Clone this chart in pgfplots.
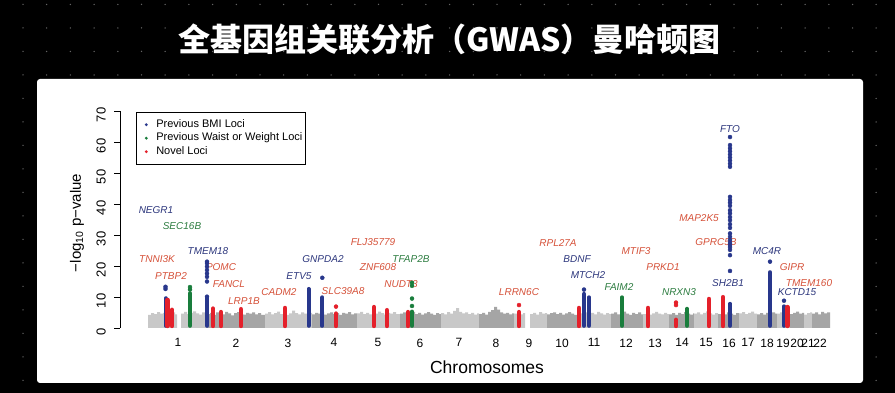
\documentclass[border=0pt]{standalone}
\usepackage{fontspec}
\setmainfont{Liberation Sans}
\newfontfamily\cjk{Noto Sans CJK SC}
\usepackage{pgfplots}
\pgfplotsset{compat=1.18}
\definecolor{bmiblue}{RGB}{40,55,140}
\definecolor{wgreen}{RGB}{25,125,60}
\definecolor{novred}{RGB}{228,32,42}
\definecolor{tblue}{RGB}{45,55,125}
\definecolor{tgreen}{RGB}{45,125,65}
\definecolor{tred}{RGB}{214,82,58}
\definecolor{gl}{RGB}{200,200,200}
\definecolor{gd}{RGB}{165,165,165}
\definecolor{dotc}{RGB}{100,100,100}
\newcommand\lab{\fontsize{10}{12}\selectfont\itshape}
\pgfplotsset{
  rcol/.style={forget plot, line width=4.8pt, line cap=round},
  bcol/.style={forget plot, line width=4.0pt, line cap=round},
  pts/.style={forget plot, only marks, mark=*, mark size=2pt},
  gbg/.style={forget plot, draw=none, const plot, fill=#1},
}
\begin{document}
\begin{tikzpicture}[x=1pt,y=1pt]
\fill[black] (0,0) rectangle (895,393);
\foreach \yy in {388.5,365,341.5,318,294.5,271,247.5,224,200.5,177,153.5,130,106.5,83,59.5,36,12.5}{
  \draw[dotc, line width=1.5pt, line cap=round, dash pattern=on 0pt off 23.7pt] (23,\yy) -- (894,\yy);
}
\fill[white, rounded corners=3pt] (37,10) rectangle (863,314);
\node[text=white, font=\cjk\bfseries\fontsize{32}{36}\selectfont] at (449.5,354) {全基因组关联分析（GWAS）曼哈顿图};
\begin{axis}[
  at={(120pt,65pt)}, anchor=south west, scale only axis,
  width=720pt, height=217pt,
  xmin=120, xmax=840, ymin=0, ymax=70, clip=false,
  axis y line*=left, axis x line*=bottom,
  x axis line style={draw=none},
  y axis line style={line width=0.7pt, black},
  ytick={0,10,20,30,40,50,60,70},
  tick align=outside, major tick length=6pt,
  ytick style={line width=0.7pt, black},
  xtick style={draw=none},
  xtick={178,236,288,334,378,420,459,496,529,562,594,626,655,682,706,729,748,767,783,797,808,820},
  xticklabels={1,2,3,4,5,6,7,8,9,10,11,12,13,14,15,16,17,18,19,20,21,22},
  /pgf/number format/assume math mode=true,
  yticklabel style={rotate=90, anchor=south, font=\fontsize{13}{15}\selectfont, inner sep=0pt, xshift=-4pt, yshift=8pt},
  xticklabel style={font=\fontsize{12}{14}\selectfont, inner sep=0pt, yshift=-4.5pt},
  legend style={at={(axis cs:136,69.8)}, anchor=north west, draw=black, line width=0.6pt,
    font=\fontsize{11}{13}\selectfont, inner xsep=1.5pt, inner ysep=6pt,
    nodes={inner sep=1.5pt, text height=8pt, text depth=2.5pt}, fill=white},
  legend cell align=left,
]
\addlegendimage{bmiblue, legend image code/.code={\path[draw=none, fill=none] (0pt,-3pt) rectangle (17pt,3pt); \fill[bmiblue, draw=none] (8.5pt,0pt) circle (1.6pt);}}
\addlegendentry{Previous BMI Loci}
\addlegendimage{wgreen, legend image code/.code={\path[draw=none, fill=none] (0pt,-3pt) rectangle (17pt,3pt); \fill[wgreen, draw=none] (8.5pt,0pt) circle (1.6pt);}}
\addlegendentry{Previous Waist or Weight Loci}
\addlegendimage{novred, legend image code/.code={\path[draw=none, fill=none] (0pt,-3pt) rectangle (17pt,3pt); \fill[novred, draw=none] (8.5pt,0pt) circle (1.6pt);}}
\addlegendentry{Novel Loci}

% grey background of all SNPs
\addplot[gbg=gl] coordinates {(148,4.2)(151,4.8)(154,4.5)(157,5.1)(160,4.6)(163,4.9)(166,5.3)(169,4.7)(172,5.0)(175,4.4)(177,4.4)} \closedcycle;
\addplot[gbg=gl] coordinates {(181,4.6)(184,5.2)(187,4.5)(190,4.9)(193,5.4)(196,4.7)(199,4.3)(202,5.0)(205,4.6)(207,4.6)} \closedcycle;
\addplot[gbg=gd] coordinates {(207,4.5)(210,4.9)(213,4.2)(216,5.0)(219,4.6)(222,4.4)(225,5.2)(228,4.7)(231,4.1)(234,4.8)(237,5.1)(240,4.5)(243,4.3)(246,4.9)(249,4.6)(252,5.0)(255,4.4)(258,4.8)(261,4.2)(265,4.2)} \closedcycle;
\addplot[gbg=gl] coordinates {(265,4.6)(268,5.1)(271,4.4)(274,4.8)(277,5.3)(280,4.5)(283,4.9)(286,4.2)(289,4.7)(292,5.6)(295,4.8)(298,4.4)(301,5.0)(304,4.6)(307,4.3)(310,4.9)(312,4.9)} \closedcycle;
\addplot[gbg=gd] coordinates {(312,4.4)(315,4.9)(318,4.6)(321,5.2)(324,4.3)(327,4.7)(330,5.0)(333,4.5)(336,4.8)(339,4.2)(342,4.9)(345,4.6)(348,5.1)(351,4.4)(354,4.7)(357,4.7)} \closedcycle;
\addplot[gbg=gl] coordinates {(357,4.7)(360,5.2)(363,4.5)(366,4.9)(369,4.4)(372,5.0)(375,4.6)(378,5.3)(381,4.8)(384,4.3)(387,4.9)(390,4.6)(393,5.1)(396,4.5)(400,4.5)} \closedcycle;
\addplot[gbg=gd] coordinates {(400,4.6)(403,5.0)(406,4.4)(409,4.8)(412,5.2)(415,4.5)(418,4.9)(421,4.3)(424,4.7)(427,5.1)(430,4.6)(433,4.2)(436,4.8)(439,4.5)(441,4.5)} \closedcycle;
\addplot[gbg=gl] coordinates {(441,4.8)(444,4.4)(447,5.1)(450,4.6)(453,5.5)(456,6.4)(459,5.2)(462,4.7)(465,5.0)(468,4.5)(471,4.9)(474,4.3)(477,4.7)(479,4.7)} \closedcycle;
\addplot[gbg=gd] coordinates {(479,4.5)(482,4.9)(485,4.3)(488,5.2)(491,5.8)(494,6.8)(497,5.9)(500,5.0)(503,4.6)(506,4.9)(509,4.4)(512,4.7)(514,4.7)} \closedcycle;
\addplot[gbg=gl] coordinates {(514,4.6)(517,5.0)(520,4.4)(523,4.8)(525,4.8)} \closedcycle;
\addplot[gbg=gl] coordinates {(530,4.5)(533,4.9)(536,4.3)(539,5.1)(542,4.6)(545,4.8)(547,4.8)} \closedcycle;
\addplot[gbg=gd] coordinates {(547,4.4)(550,4.8)(553,5.0)(556,4.5)(559,4.9)(562,4.3)(565,4.7)(568,5.1)(571,4.6)(574,4.2)(577,4.8)(579,4.8)} \closedcycle;
\addplot[gbg=gl] coordinates {(579,4.7)(582,4.3)(585,5.0)(588,4.6)(591,4.9)(594,4.4)(597,5.2)(600,4.7)(603,4.3)(606,4.8)(609,4.5)(611,4.5)} \closedcycle;
\addplot[gbg=gd] coordinates {(611,4.6)(614,5.0)(617,4.4)(620,4.8)(623,5.3)(626,4.6)(629,4.2)(632,4.9)(635,4.5)(638,5.0)(641,4.4)(643,4.4)} \closedcycle;
\addplot[gbg=gl] coordinates {(643,4.5)(646,4.9)(649,4.3)(652,4.7)(655,5.2)(658,4.6)(661,4.4)(664,4.9)(667,4.5)(669,4.5)} \closedcycle;
\addplot[gbg=gd] coordinates {(669,4.4)(672,4.8)(675,4.2)(678,4.9)(681,4.5)(684,5.1)(687,4.6)(690,4.3)(693,4.7)(694,4.7)} \closedcycle;
\addplot[gbg=gl] coordinates {(694,4.6)(697,5.0)(700,4.4)(703,4.9)(706,5.4)(709,4.7)(712,4.3)(715,4.8)(718,4.8)} \closedcycle;
\addplot[gbg=gd] coordinates {(718,4.5)(721,4.9)(724,4.4)(727,5.0)(730,4.6)(733,4.2)(736,4.8)(739,4.8)} \closedcycle;
\addplot[gbg=gl] coordinates {(739,4.7)(742,5.1)(745,4.5)(748,4.9)(751,5.3)(754,4.6)(757,4.6)} \closedcycle;
\addplot[gbg=gd] coordinates {(757,4.4)(760,4.8)(763,4.3)(766,4.9)(769,4.5)(772,5.0)(775,4.6)(777,4.6)} \closedcycle;
\addplot[gbg=gl] coordinates {(777,4.6)(780,5.0)(783,4.4)(786,4.8)(789,4.5)(790,4.5)} \closedcycle;
\addplot[gbg=gd] coordinates {(790,4.5)(793,4.9)(796,5.3)(799,4.6)(802,4.9)(804,4.9)} \closedcycle;
\addplot[gbg=gl] coordinates {(804,4.3)(807,4.8)(810,5.0)(812,5.0)} \closedcycle;
\addplot[gbg=gd] coordinates {(812,4.6)(815,5.0)(818,4.4)(821,5.2)(824,4.7)(827,5.0)(830,5.0)} \closedcycle;

% gene labels
\node[font=\lab, text=tblue] at (axis cs:156,38.1) {NEGR1};
\node[font=\lab, text=tgreen] at (axis cs:182,32.9) {SEC16B};
\node[font=\lab, text=tred] at (axis cs:157,22.3) {TNNI3K};
\node[font=\lab, text=tred] at (axis cs:171,16.8) {PTBP2};
\node[font=\lab, text=tblue] at (axis cs:208,24.8) {TMEM18};
\node[font=\lab, text=tred] at (axis cs:221,19.7) {POMC};
\node[font=\lab, text=tred] at (axis cs:229,14.2) {FANCL};
\node[font=\lab, text=tred] at (axis cs:244,8.7) {LRP1B};
\node[font=\lab, text=tred] at (axis cs:279,11.6) {CADM2};
\node[font=\lab, text=tblue] at (axis cs:299,16.8) {ETV5};
\node[font=\lab, text=tblue] at (axis cs:323,22.3) {GNPDA2};
\node[font=\lab, text=tred] at (axis cs:343,11.9) {SLC39A8};
\node[font=\lab, text=tred] at (axis cs:373,27.7) {FLJ35779};
\node[font=\lab, text=tred] at (axis cs:378,19.7) {ZNF608};
\node[font=\lab, text=tgreen] at (axis cs:411,22.3) {TFAP2B};
\node[font=\lab, text=tred] at (axis cs:401,14.2) {NUDT3};
\node[font=\lab, text=tred] at (axis cs:519,11.6) {LRRN6C};
\node[font=\lab, text=tred] at (axis cs:558,27.4) {RPL27A};
\node[font=\lab, text=tblue] at (axis cs:577,22.3) {BDNF};
\node[font=\lab, text=tblue] at (axis cs:588,17.1) {MTCH2};
\node[font=\lab, text=tred] at (axis cs:636,24.8) {MTIF3};
\node[font=\lab, text=tred] at (axis cs:663,19.7) {PRKD1};
\node[font=\lab, text=tgreen] at (axis cs:619,13.2) {FAIM2};
\node[font=\lab, text=tgreen] at (axis cs:679,11.6) {NRXN3};
\node[font=\lab, text=tblue] at (axis cs:728,14.5) {SH2B1};
\node[font=\lab, text=tred] at (axis cs:716,27.7) {GPRC5B};
\node[font=\lab, text=tred] at (axis cs:699,35.5) {MAP2K5};
\node[font=\lab, text=tblue] at (axis cs:730,64.2) {FTO};
\node[font=\lab, text=tblue] at (axis cs:767,24.8) {MC4R};
\node[font=\lab, text=tred] at (axis cs:792,19.7) {GIPR};
\node[font=\lab, text=tred] at (axis cs:809,14.5) {TMEM160};
\node[font=\lab, text=tblue] at (axis cs:797,11.6) {KCTD15};

% previous BMI loci (blue)
\addplot[bcol, bmiblue] coordinates {(165.5,0.7)(165.5,9.6)};
\addplot[pts, bmiblue] coordinates {(165.5,12.6)(165.5,13.3)};
\addplot[bcol, bmiblue] coordinates {(207,0.7)(207,9.6)};
\addplot[pts, bmiblue] coordinates {(207,10.1)(207,15.0)(207,16.5)(207,17.6)(207,18.7)(207,19.8)(207,20.9)(207,21.4)};
\addplot[bcol, bmiblue] coordinates {(308.5,0.7)(308.5,12.6)};
\addplot[bcol, bmiblue] coordinates {(322.3,0.7)(322.3,9.9)};
\addplot[pts, bmiblue] coordinates {(322.3,16.2)};
\addplot[bcol, bmiblue] coordinates {(584,0.7)(584,11.0)};
\addplot[pts, bmiblue] coordinates {(584,12.4)};
\addplot[bcol, bmiblue] coordinates {(589,0.7)(589,9.9)};
\addplot[bcol, bmiblue] coordinates {(730,0.7)(730,7.8)};
\addplot[pts, bmiblue] coordinates {(730,18.4)(730,23.5)(730,25.2)(730,26.1)(730,26.8)(730,27.4)(730,28.4)(730,29.4)(730,30.5)(730,32.3)(730,33.5)(730,34.8)(730,35.8)(730,37.0)(730,38.0)(730,39.4)(730,40.4)(730,41.3)(730,42.3)(730,52.0)(730,53.0)(730,54.0)(730,55.0)(730,56.0)(730,57.0)(730,58.0)(730,59.0)(730,61.6)};
\addplot[bcol, bmiblue] coordinates {(770,0.7)(770,18.0)};
\addplot[pts, bmiblue] coordinates {(770,21.4)};
\addplot[bcol, bmiblue] coordinates {(784,0.7)(784,7.0)};
\addplot[pts, bmiblue] coordinates {(784,8.8)};

% previous waist / weight loci (green)
\addplot[bcol, wgreen] coordinates {(190,0.7)(190,11.2)};
\addplot[pts, wgreen] coordinates {(190,12.4)(190,13.2)};
\addplot[bcol, wgreen] coordinates {(412,0.7)(412,5.3)};
\addplot[pts, wgreen] coordinates {(412,7.1)(412,9.5)(412,13.6)(412,14.6)};
\addplot[bcol, wgreen] coordinates {(622,0.7)(622,9.9)};
\addplot[bcol, wgreen] coordinates {(687,0.7)(687,6.2)};

% novel loci (red)
\addplot[rcol, novred] coordinates {(167.5,0.7)(167.5,9.0)};
\addplot[rcol, novred] coordinates {(172,0.7)(172,5.8)};
\addplot[rcol, novred] coordinates {(213,0.7)(213,6.2)};
\addplot[rcol, novred] coordinates {(221,0.7)(221,5.1)};
\addplot[rcol, novred] coordinates {(241,0.7)(241,6.0)};
\addplot[rcol, novred] coordinates {(285,0.7)(285,6.4)};
\addplot[rcol, novred] coordinates {(336,0.7)(336,4.6)};
\addplot[pts, novred] coordinates {(336,6.9)};
\addplot[rcol, novred] coordinates {(374,0.7)(374,6.7)};
\addplot[rcol, novred] coordinates {(387,0.7)(387,5.7)};
\addplot[rcol, novred] coordinates {(408,0.7)(408,5.1)};
\addplot[rcol, novred] coordinates {(519,0.7)(519,5.1)};
\addplot[pts, novred] coordinates {(519,7.4)};
\addplot[rcol, novred] coordinates {(579,0.7)(579,6.4)};
\addplot[rcol, novred] coordinates {(648,0.7)(648,6.4)};
\addplot[rcol, novred] coordinates {(676,0.7)(676,2.6)};
\addplot[pts, novred] coordinates {(676,7.4)(676,8.2)};
\addplot[rcol, novred] coordinates {(709,0.7)(709,9.3)};
\addplot[rcol, novred] coordinates {(723,0.7)(723,9.9)};
\addplot[rcol, novred] coordinates {(787.5,0.7)(787.5,6.7)};
\end{axis}
\node[rotate=90, font=\fontsize{15}{17}\selectfont] at (77,170) {−log\textsubscript{10} p−value};
\node[font=\fontsize{17.5}{20}\selectfont] at (487,26) {Chromosomes};
\end{tikzpicture}
\end{document}
